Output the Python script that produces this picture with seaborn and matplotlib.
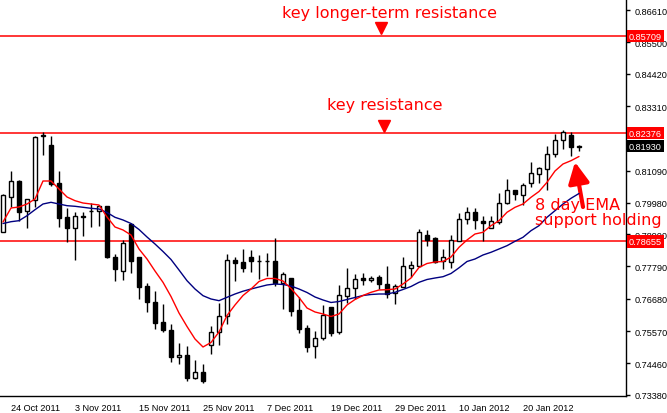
import numpy as np
import pandas as pd
import matplotlib
matplotlib.use("Agg")
import matplotlib.pyplot as plt
import seaborn as sns
from matplotlib.transforms import blended_transform_factory

# ---- data (daily candles) ----
opens = [0.78977, 0.80170, 0.80721, 0.79689, 0.80088, 0.82279, 0.81970, 0.80662, 0.79483, 0.79101,
         0.79527, 0.79682, 0.79689, 0.79861, 0.78100, 0.77645, 0.79252, 0.78100, 0.77110, 0.76558,
         0.75881, 0.75606, 0.74677, 0.74756, 0.73944, 0.74150, 0.75089, 0.75523, 0.76073, 0.78014,
         0.77945, 0.78117, 0.77996, 0.77969, 0.77989, 0.77233, 0.77391, 0.76294, 0.75674, 0.75045,
         0.75320, 0.76397, 0.75547, 0.76786, 0.77040, 0.77394, 0.77336, 0.77418, 0.77177, 0.76868,
         0.77096, 0.77728, 0.77817, 0.78874, 0.78770, 0.77979, 0.77935, 0.78678, 0.79414, 0.79675,
         0.79345, 0.79111, 0.79310, 0.79974, 0.80411, 0.80260, 0.80673, 0.80972, 0.81154, 0.81650,
         0.82152, 0.82314, 0.81915]
highs = [0.80284, 0.81075, 0.80766, 0.80112, 0.82269, 0.82407, 0.82279, 0.81075, 0.79792, 0.79665,
         0.79654, 0.79964, 0.79916, 0.79871, 0.78218, 0.78701, 0.79276, 0.78127, 0.77214, 0.76964,
         0.76500, 0.75799, 0.75169, 0.75065, 0.74574, 0.74437, 0.75754, 0.76545, 0.78218, 0.78117,
         0.78381, 0.78358, 0.78194, 0.78242, 0.78770, 0.77601, 0.77411, 0.76730, 0.75775, 0.75561,
         0.76466, 0.76397, 0.77143, 0.77738, 0.77532, 0.77556, 0.77453, 0.77508, 0.77796, 0.77188,
         0.78100, 0.77979, 0.79069, 0.79046, 0.78794, 0.78381, 0.78864, 0.79620, 0.79826, 0.79792,
         0.79527, 0.79537, 0.80308, 0.80800, 0.80421, 0.80652, 0.81395, 0.81223, 0.81935, 0.82338,
         0.82496, 0.82407, 0.81970]
lows = [0.78960, 0.79847, 0.79366, 0.79114, 0.79826, 0.81636, 0.80570, 0.79148, 0.78644, 0.78024,
        0.78830, 0.79137, 0.79193, 0.78072, 0.77302, 0.77336, 0.77577, 0.76682, 0.76235, 0.75650,
        0.75526, 0.74505, 0.74422, 0.73840, 0.73937, 0.73782, 0.74767, 0.75100, 0.75799, 0.77308,
        0.77601, 0.77611, 0.77360, 0.77473, 0.77110, 0.76338, 0.76097, 0.75502, 0.74859, 0.74631,
        0.75272, 0.75410, 0.75479, 0.76524, 0.76672, 0.77154, 0.77257, 0.77026, 0.76717, 0.76500,
        0.77075, 0.77439, 0.77783, 0.78505, 0.77921, 0.77714, 0.77728, 0.78657, 0.79252, 0.79080,
        0.78657, 0.79104, 0.79248, 0.79950, 0.80067, 0.79916, 0.80514, 0.80652, 0.80432, 0.81567,
        0.81832, 0.81581, 0.81763]
closes = [0.80250, 0.80721, 0.79654, 0.80102, 0.82234, 0.82314, 0.80628, 0.79469, 0.79101, 0.79517,
          0.79476, 0.79699, 0.79861, 0.78127, 0.77714, 0.78598, 0.77989, 0.77096, 0.76558, 0.75857,
          0.75606, 0.74677, 0.74756, 0.73954, 0.74150, 0.73861, 0.75537, 0.76087, 0.78003, 0.77921,
          0.77749, 0.77989, 0.77986, 0.77962, 0.77233, 0.77522, 0.76269, 0.75650, 0.75031, 0.75320,
          0.76122, 0.75502, 0.76799, 0.77040, 0.77350, 0.77336, 0.77384, 0.77198, 0.76844, 0.77110,
          0.77796, 0.77831, 0.78966, 0.78712, 0.77945, 0.78106, 0.78691, 0.79414, 0.79675, 0.79379,
          0.79286, 0.79345, 0.79964, 0.80411, 0.80274, 0.80583, 0.80996, 0.81168, 0.81650, 0.82142,
          0.82427, 0.81901, 0.81930]
ema_fast = [0.79321, 0.79802, 0.79837, 0.79940, 0.80112, 0.80731, 0.80731, 0.80456, 0.80181, 0.80054,
            0.79974, 0.79940, 0.79906, 0.79493, 0.79149, 0.79046, 0.78874, 0.78392, 0.78048, 0.77635,
            0.77246, 0.76758, 0.76190, 0.75726, 0.75296, 0.75021, 0.75176, 0.75537, 0.76104, 0.76466,
            0.76792, 0.77016, 0.77274, 0.77377, 0.77377, 0.77291, 0.77033, 0.76724, 0.76362, 0.76225,
            0.76156, 0.76070, 0.76156, 0.76466, 0.76655, 0.76792, 0.76902, 0.76982, 0.76992, 0.77016,
            0.77188, 0.77394, 0.77756, 0.77893, 0.77945, 0.77962, 0.78117, 0.78451, 0.78702, 0.78908,
            0.78967, 0.79194, 0.79366, 0.79655, 0.79826, 0.79940, 0.80171, 0.80370, 0.80686, 0.81075,
            0.81316, 0.81430, 0.81574]
ema_slow = [0.79269, 0.79331, 0.79366, 0.79537, 0.79744, 0.79940, 0.79998, 0.79940, 0.79882, 0.79861,
            0.79827, 0.79792, 0.79768, 0.79648, 0.79482, 0.79390, 0.79269, 0.79063, 0.78805, 0.78564,
            0.78306, 0.78031, 0.77670, 0.77302, 0.77016, 0.76786, 0.76672, 0.76614, 0.76730, 0.76844,
            0.76940, 0.77016, 0.77085, 0.77154, 0.77188, 0.77171, 0.77119, 0.77016, 0.76896, 0.76741,
            0.76638, 0.76552, 0.76586, 0.76655, 0.76724, 0.76792, 0.76827, 0.76844, 0.76844, 0.76902,
            0.76999, 0.77102, 0.77246, 0.77343, 0.77394, 0.77439, 0.77549, 0.77745, 0.77962, 0.78048,
            0.78186, 0.78279, 0.78392, 0.78506, 0.78657, 0.78795, 0.79022, 0.79194, 0.79483, 0.79710,
            0.79940, 0.80136, 0.80301]
date_labels = ["24 Oct 2011", "3 Nov 2011", "15 Nov 2011", "25 Nov 2011", "7 Dec 2011",
               "19 Dec 2011", "29 Dec 2011", "10 Jan 2012", "20 Jan 2012"]
date_label_bars = [1, 9, 17, 25, 33, 41, 49, 57, 65]
price_ticks = [0.86610, 0.85500, 0.84420, 0.83310, 0.81090, 0.79980, 0.78900,
               0.77790, 0.76680, 0.75570, 0.74460, 0.73380]
level_lines = [0.85709, 0.82376, 0.78655]
last_price = 0.81930

# ---- style ----
sns.set_style("white")
plt.rcParams['font.family'] = ['Liberation Sans', 'DejaVu Sans']

W, H = 667, 414
fig = plt.figure(figsize=(W / 100, H / 100), dpi=100)
ax = fig.add_axes([0, 17 / H, 626 / W, 397 / H])

df = pd.DataFrame({"bar": np.arange(len(opens)), "open": opens, "high": highs,
                   "low": lows, "close": closes, "ema8": ema_fast, "ema21": ema_slow})

# wicks
ax.vlines(df["bar"], df["low"], df["high"], color="black", lw=1, zorder=2)
# bodies
up = df["close"] >= df["open"]
body_bottom = np.minimum(df["open"], df["close"])
body_height = np.abs(df["close"] - df["open"])
ax.bar(df["bar"], body_height, bottom=body_bottom, width=0.6,
       color=np.where(up, "white", "black"), edgecolor="black", linewidth=1, zorder=3)

# EMA lines
sns.lineplot(data=df, x="bar", y="ema21", color="#000080", lw=1, ax=ax, zorder=4)
sns.lineplot(data=df, x="bar", y="ema8", color="#ff0000", lw=1, ax=ax, zorder=5)

# key levels
for lv in level_lines:
    ax.axhline(lv, color="#ff0000", lw=1.1, zorder=1)

ax.set_xlim(-0.375, 77.875)
ax.set_ylim(0.73335, 0.86992)
ax.set_xlabel("")
ax.set_ylabel("")

for s in ["top", "left"]:
    ax.spines[s].set_visible(False)
for s in ["right", "bottom"]:
    ax.spines[s].set_color("black")
    ax.spines[s].set_linewidth(1)

ax.yaxis.tick_right()
ax.set_yticks(price_ticks)
ax.set_yticklabels([f"{v:.5f}" for v in price_ticks])
ax.tick_params(axis="y", direction="out", length=3, width=1, labelsize=6.6, pad=3,
               colors="black")
ax.set_xticks(date_label_bars)
ax.set_xticklabels(date_labels, ha="left")
ax.tick_params(axis="x", direction="out", length=3, width=1, labelsize=6.6, pad=2,
               colors="black")

# price boxes on the right axis
trans = blended_transform_factory(ax.transAxes, ax.transData)
for lv in level_lines:
    ax.text(1.0 + 3 / 626, lv, f"{lv:.5f}", transform=trans, ha="left", va="center",
            color="white", fontsize=6.6, clip_on=False, zorder=10,
            bbox=dict(boxstyle="square,pad=0.18", fc="#ff0000", ec="none"))
ax.text(1.0 + 3 / 626, last_price, f"{last_price:.5f}", transform=trans, ha="left",
        va="center", color="white", fontsize=6.6, clip_on=False, zorder=10,
        bbox=dict(boxstyle="square,pad=0.18", fc="black", ec="none"))

# annotations (figure pixel coordinates)
red = "#ff0000"
afont = dict(color=red, fontsize=11.5, family=["DejaVu Sans"])
fig.text(389 / W, 1 - 18 / H, "key longer-term resistance", ha="center", va="baseline", **afont)
fig.text(385 / W, 1 - 110 / H, "key resistance", ha="center", va="baseline", **afont)
fig.text(535 / W, 1 - 210 / H, "8 day EMA", ha="left", va="baseline", zorder=20, **afont)
fig.text(535 / W, 1 - 225 / H, "support holding", ha="left", va="baseline", zorder=20, **afont)
fig.lines.append(plt.Line2D([381 / W], [1 - 29 / H], marker="v", markersize=8.5, color=red,
                            transform=fig.transFigure))
fig.lines.append(plt.Line2D([384 / W], [1 - 127 / H], marker="v", markersize=8.5, color=red,
                            transform=fig.transFigure))
ax.annotate("", xy=(575, H - 163), xycoords="figure pixels",
            xytext=(583, H - 208), textcoords="figure pixels",
            arrowprops=dict(arrowstyle="-|>,head_length=0.9,head_width=0.45", color=red,
                            lw=3, mutation_scale=14, shrinkA=0, shrinkB=0))

fig.savefig("out.png", dpi=100, facecolor="white")
